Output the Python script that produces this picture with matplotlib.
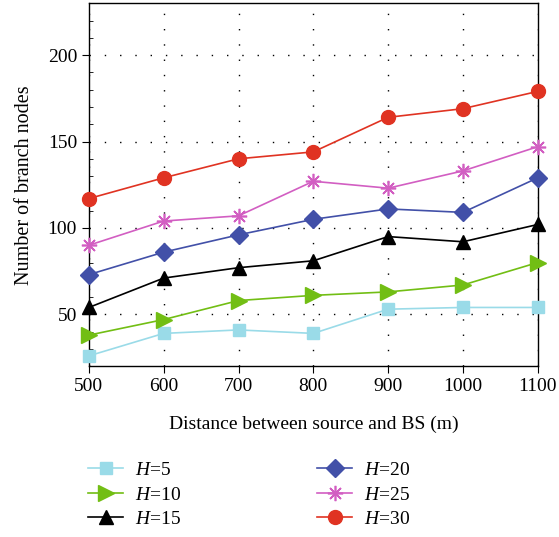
import matplotlib.pyplot as plt
from matplotlib.ticker import MultipleLocator

plt.rcParams['font.family'] = ['Liberation Serif', 'DejaVu Serif']
plt.rcParams['mathtext.fontset'] = 'custom'
plt.rcParams['mathtext.it'] = 'Liberation Serif:italic'
plt.rcParams['mathtext.rm'] = 'Liberation Serif'

# Data
distance = [500, 600, 700, 800, 900, 1000, 1100]
h5 = [26, 39, 41, 39, 53, 54, 54]
h10 = [38, 47, 58, 61, 63, 67, 80]
h15 = [54, 71, 77, 81, 95, 92, 102]
h20 = [73, 86, 96, 105, 111, 109, 129]
h25 = [90, 104, 107, 127, 123, 133, 147]
h30 = [117, 129, 140, 144, 164, 169, 179]

fig = plt.figure(figsize=(5.59, 5.37), dpi=100)
ax = fig.add_axes([0.159, 0.318, 0.803, 0.676])

kw = dict(lw=1.2, clip_on=False, zorder=3)
ax.plot(distance, h5, color="#9adbe8", marker="s", ms=8, label="$H$=5", **kw)
ax.plot(distance, h10, color="#72be14", marker=">", ms=11, label="$H$=10", **kw)
ax.plot(distance, h15, color="black", marker="^", ms=10, label="$H$=15", **kw)
ax.plot(distance, h20, color="#4250a8", marker="D", ms=9, label="$H$=20", **kw)
ax.plot(distance, h25, color="#d25ec2", marker=(8, 2, 0), ms=11, mew=1.2, label="$H$=25", **kw)
ax.plot(distance, h30, color="#e03322", marker="o", ms=10, label="$H$=30", **kw)

ax.set_xlim(500, 1100)
ax.set_ylim(20, 230)
ax.set_xticks(distance)
ax.set_yticks([50, 100, 150, 200])
ax.yaxis.set_minor_locator(MultipleLocator(10))
ax.tick_params(axis="both", which="major", direction="out", length=5, labelsize=14)
ax.tick_params(axis="y", which="minor", direction="in", length=3)
ax.grid(True, which="major", color="black", linestyle=(0, (1, 10)), linewidth=1.0)
for s in ax.spines.values():
    s.set_linewidth(1.0)

ax.set_xlabel("Distance between source and BS (m)", fontsize=14, labelpad=15)
ax.set_ylabel("Number of branch nodes", fontsize=14.5, labelpad=10)

fig.legend(loc="upper left", bbox_to_anchor=(0.127, 0.173), ncol=2, frameon=False,
           fontsize=14, columnspacing=7.0, handlelength=1.8, handletextpad=0.6,
           labelspacing=0.35)

fig.savefig("out.png", dpi=100)
